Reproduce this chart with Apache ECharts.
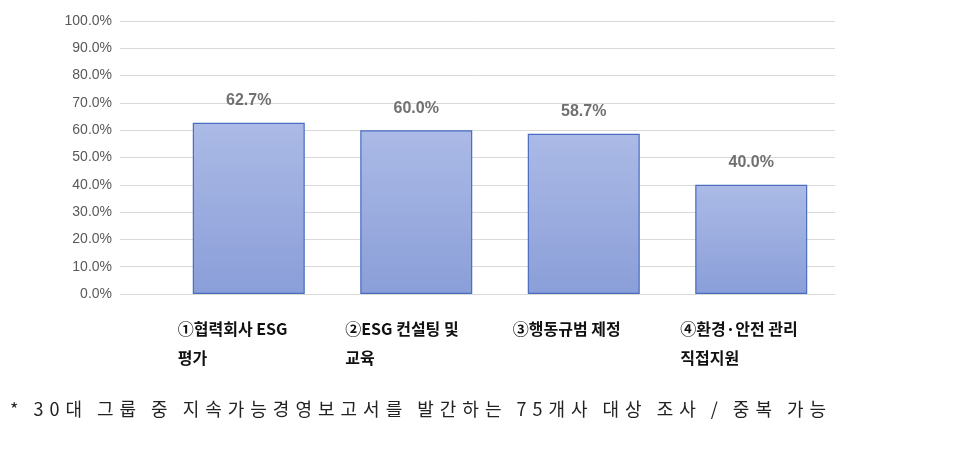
<!DOCTYPE html><html><head><meta charset="utf-8"><script src="https://cdn.jsdelivr.net/npm/echarts@6/dist/echarts.min.js"></script>
<style>html,body{margin:0;padding:0;background:#fff}#c{width:960px;height:449px}</style></head><body><div id="c"></div>
<script>
const categories=['①협력회사 ESG\n평가','②ESG 컨설팅 및\n교육','③행동규범 제정','④환경·안전 관리\n직접지원'];
const values=[62.7,60.0,58.7,40.0];
const ticks=[0,10,20,30,40,50,60,70,80,90,100];
const note='* 30대 그룹 중 지속가능경영보고서를 발간하는 75개사 대상 조사 / 중복 가능';
const spaced=note.split(' ').map(w=>w.split('').join('\u2004')).join('\u2004\u2005\u2005');
const chart=echarts.init(document.getElementById('c'));
chart.setOption({
 animation:false,
 grid:[{left:120,right:125,top:21,bottom:155},{left:165,right:125,top:21,bottom:155}],
 xAxis:[{type:'value',gridIndex:0,show:false,min:0,max:1},
  {type:'category',gridIndex:1,data:categories,axisTick:{show:false},axisLine:{show:false},
  axisLabel:{margin:20,lineHeight:29,formatter:v=>v.split('\n').map(s=>'{a|'+s+'}').join('\n'),
   rich:{a:{width:142,align:'left',fontSize:16,fontWeight:'bold',color:'#111',fontFamily:'Noto Sans CJK KR',lineHeight:29}}}}],
 yAxis:[{type:'value',gridIndex:0,min:0,max:100,interval:10,axisLabel:{formatter:v=>v.toFixed(1)+'%',color:'#595959',fontSize:14,fontFamily:'Arial, Liberation Sans'},
  splitLine:{lineStyle:{color:'#d9d9d9'}},axisLine:{show:false},axisTick:{show:false}},
  {type:'value',gridIndex:1,min:0,max:100,interval:10,show:false,splitLine:{show:false}}],
 series:[{type:'bar',xAxisIndex:1,yAxisIndex:1,data:values,barWidth:112,
  itemStyle:{borderColor:'#4a6cc0',borderWidth:1.2,color:new echarts.graphic.LinearGradient(0,0,0,1,[{offset:0,color:'#abbae6'},{offset:1,color:'#8a9ed8'}])},
  label:{show:true,position:'top',distance:14,formatter:p=>p.value.toFixed(1)+'%',color:'#707070',fontWeight:'bold',fontSize:16,fontFamily:'Arial, Liberation Sans'}}],
 graphic:[{type:'text',left:10,top:400,style:{text:spaced,fontSize:18,fill:'#222',fontFamily:'Noto Sans CJK KR'}}]
});
</script></body></html>
